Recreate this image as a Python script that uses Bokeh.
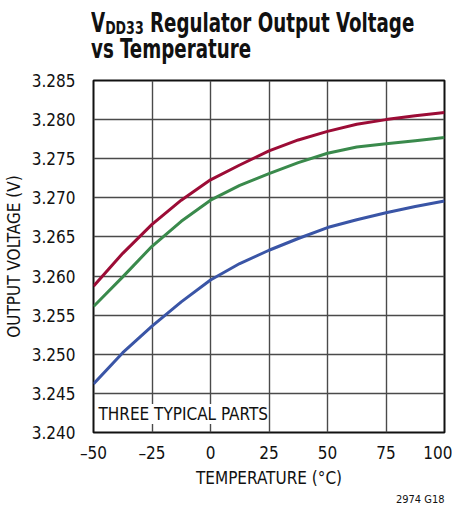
from bokeh.plotting import figure
from bokeh.models import Label, FixedTicker, Range1d, Div, Title
from bokeh.layouts import column
from bokeh.embed import file_html
from bokeh.resources import INLINE

temps = [-50, -37.5, -25, -12.5, 0, 12.5, 25, 37.5, 50, 62.5, 75, 87.5, 100]
part_red = [3.2587, 3.2629, 3.2666, 3.2697, 3.2723, 3.2742, 3.2760, 3.2774, 3.2785, 3.2794, 3.2800, 3.2805, 3.2809]
part_green = [3.2561, 3.2599, 3.2638, 3.2670, 3.2697, 3.2716, 3.2731, 3.2745, 3.2757, 3.2765, 3.2769, 3.2773, 3.2777]
part_blue = [3.2462, 3.2502, 3.2536, 3.2567, 3.2595, 3.2616, 3.2633, 3.2648, 3.2662, 3.2672, 3.2681, 3.2689, 3.2696]

x_ticks = [-50, -25, 0, 25, 50, 75, 100]
x_tick_labels = ["\u201350", "\u201325", "0", "25", "50", "75", "100"]
y_ticks = [3.240, 3.245, 3.250, 3.255, 3.260, 3.265, 3.270, 3.275, 3.280, 3.285]
y_tick_labels = ["%.3f" % v for v in y_ticks]

FONT = "DejaVu Sans Condensed"

title_html = (
    '<div style="font-family:\'DejaVu Sans Condensed\'; font-weight:bold; font-size:26px; '
    'line-height:26px; color:#111; white-space:nowrap; padding-top:10px; margin-left:91px; '
    'transform:scaleX(0.78); transform-origin:left top;">'
    'V<span style="font-size:18px; position:relative; top:2px; line-height:0;">DD33</span> '
    'Regulator Output Voltage<br>vs Temperature</div>'
)
title_div = Div(text=title_html, width=452, height=70, margin=(0, 0, 0, 0))

p = figure(frame_width=351, frame_height=352, output_backend="svg", toolbar_location=None,
           x_range=Range1d(-50, 100), y_range=Range1d(3.240, 3.285),
           min_border_left=93, min_border_right=8, min_border_top=10, min_border_bottom=4,
           margin=(0, 0, 0, 0))
p.background_fill_color = "white"
p.border_fill_color = "white"
p.outline_line_color = "#111111"
p.outline_line_width = 2

p.xaxis.ticker = FixedTicker(ticks=x_ticks)
p.yaxis.ticker = FixedTicker(ticks=y_ticks)
p.xaxis.major_label_overrides = {t: l for t, l in zip(x_ticks, x_tick_labels)}
p.yaxis.major_label_overrides = {t: l for t, l in zip(y_ticks, y_tick_labels)}
for ax in (p.xaxis[0], p.yaxis[0]):
    ax.axis_line_color = None
    ax.major_tick_line_color = None
    ax.minor_tick_line_color = None
    ax.major_label_text_font = FONT
    ax.major_label_text_font_size = "17px"
    ax.major_label_text_color = "#111111"
    ax.axis_label_text_font = FONT
    ax.axis_label_text_font_size = "17px"
    ax.axis_label_text_font_style = "normal"
    ax.axis_label_text_color = "#111111"
p.xaxis.major_label_standoff = 4
p.yaxis.major_label_standoff = 12
p.xaxis.axis_label = "TEMPERATURE (\u00b0C)"
p.yaxis.axis_label = "OUTPUT VOLTAGE (V)"
p.xaxis.axis_label_standoff = 2
p.yaxis.axis_label_standoff = 5

for g in (p.xgrid[0], p.ygrid[0]):
    g.grid_line_color = "#4a4a4a"
    g.grid_line_width = 1.4
p.xgrid.ticker = FixedTicker(ticks=x_ticks)
p.ygrid.ticker = FixedTicker(ticks=y_ticks)

p.line(temps, part_blue, line_color="#3a55a6", line_width=3)
p.line(temps, part_green, line_color="#3a8a4c", line_width=3)
p.line(temps, part_red, line_color="#9c0c36", line_width=3)

p.add_layout(Label(x=-47.9, y=3.2411, text="THREE TYPICAL PARTS", text_font=FONT,
                   text_font_size="17px", text_color="#111111",
                   background_fill_color="white", background_fill_alpha=1.0,
                   border_line_color=None))

p.add_layout(Title(text="2974 G18", align="right", text_font=FONT, text_font_size="11px",
                   text_font_style="normal", text_color="#111111", offset=0, standoff=0), "below")

layout = column(title_div, p, spacing=0)
open("out.html", "w").write(file_html(layout, INLINE))
